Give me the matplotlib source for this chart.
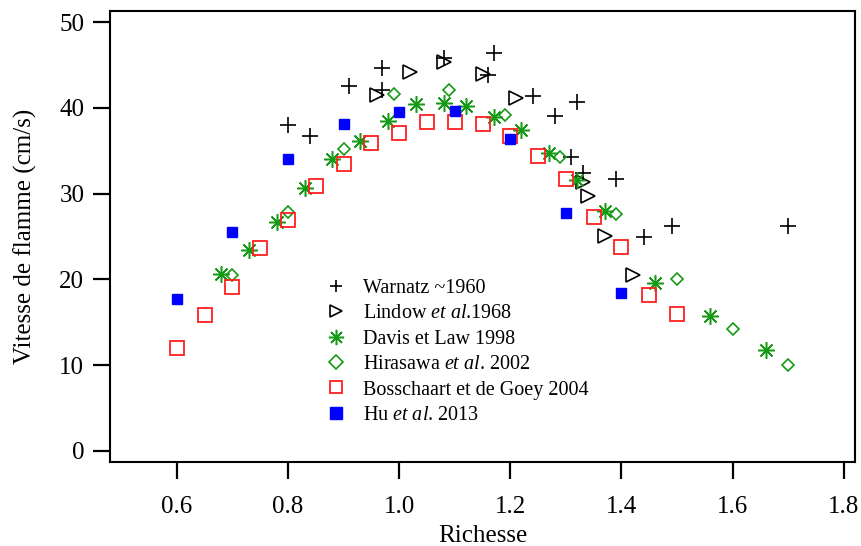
import matplotlib
matplotlib.use("Agg")
import matplotlib.pyplot as plt

plt.rcParams['font.family'] = ['Liberation Serif', 'DejaVu Serif']
plt.rcParams['mathtext.fontset'] = 'custom'
plt.rcParams['mathtext.rm'] = 'Liberation Serif'
plt.rcParams['mathtext.it'] = 'Liberation Serif:italic'

# Warnatz ~1960
warnatz_x = [0.80, 0.84, 0.91, 0.97, 0.97, 1.08, 1.16, 1.17, 1.24, 1.28, 1.32,
             1.31, 1.33, 1.39, 1.44, 1.49, 1.70]
warnatz_y = [38.0, 36.7, 42.5, 44.6, 42.1, 45.8, 43.8, 46.4, 41.4, 39.0, 40.7,
             34.3, 32.4, 31.7, 24.9, 26.2, 26.2]

# Lindow et al. 1968
lindow_x = [0.96, 1.02, 1.08, 1.15, 1.21, 1.33, 1.34, 1.37, 1.42]
lindow_y = [41.5, 44.2, 45.3, 43.9, 41.1, 31.4, 29.7, 25.1, 20.5]

# Davis et Law 1998
davis_x = [0.68, 0.73, 0.78, 0.83, 0.88, 0.93, 0.98, 1.03, 1.08, 1.12, 1.17,
           1.22, 1.27, 1.32, 1.37, 1.46, 1.56, 1.66]
davis_y = [20.6, 23.4, 26.7, 30.6, 34.0, 36.1, 38.5, 40.4, 40.6, 40.2, 38.9,
           37.4, 34.7, 31.6, 28.0, 19.6, 15.7, 11.8]

# Hirasawa et al. 2002
hira_x = [0.70, 0.80, 0.90, 0.99, 1.09, 1.19, 1.29, 1.39, 1.50, 1.60, 1.70]
hira_y = [20.5, 27.8, 35.2, 41.6, 42.1, 39.2, 34.3, 27.6, 20.1, 14.2, 10.0]

# Bosschaart et de Goey 2004
boss_x = [0.60, 0.65, 0.70, 0.75, 0.80, 0.85, 0.90, 0.95, 1.00, 1.05, 1.10,
          1.15, 1.20, 1.25, 1.30, 1.35, 1.40, 1.45, 1.50]
boss_y = [12.0, 15.9, 19.1, 23.7, 26.9, 30.9, 33.4, 35.9, 37.1, 38.3, 38.3,
          38.1, 36.7, 34.4, 31.7, 27.3, 23.8, 18.2, 16.0]

# Hu et al. 2013
hu_x = [0.60, 0.70, 0.80, 0.90, 1.00, 1.10, 1.20, 1.30, 1.40]
hu_y = [17.7, 25.5, 34.0, 38.1, 39.5, 39.6, 36.4, 27.7, 18.4]

green = '#159a15'

fig = plt.figure(figsize=(8.61, 5.46), dpi=100)
ax = fig.add_axes([0.1278, 0.1538, 0.8652, 0.8261])

ax.plot(warnatz_x, warnatz_y, ls='none', marker='+', ms=11, mew=1.2,
        color='black', label='Warnatz ~1960')
ax.plot(lindow_x, lindow_y, ls='none', marker='>', ms=10, mew=1.2,
        mfc='none', mec='black', label=r'Lindow $et\ al$.1968')
ax.plot(davis_x, davis_y, ls='none', marker=(8, 2, 0), ms=12, mew=1.1,
        color=green, label='Davis et Law 1998')
ax.plot(hira_x, hira_y, ls='none', marker='D', ms=6, mew=1.2,
        mfc='none', mec=green, label=r'Hirasawa $et\ al$. 2002')
ax.plot(boss_x, boss_y, ls='none', marker='s', ms=10, mew=1.3,
        mfc='none', mec='#ff2020', label='Bosschaart et de Goey 2004')
ax.plot(hu_x, hu_y, ls='none', marker='s', ms=6.5,
        color='#0000ff', label=r'Hu $et\ al$. 2013')

ax.set_xlim(0.48, 1.82)
ax.set_ylim(-1.3, 51.3)
ax.set_xticks([0.6, 0.8, 1.0, 1.2, 1.4, 1.6, 1.8])
ax.set_yticks([0, 10, 20, 30, 40, 50])
ax.set_xticklabels(['0.6', '0.8', '1.0', '1.2', '1.4', '1.6', '1.8'])

for s in ax.spines.values():
    s.set_linewidth(1.5)
ax.tick_params(direction='out', length=12.5, width=1.6, labelsize=18)
ax.tick_params(axis='x', pad=12)
ax.tick_params(axis='y', pad=6)

ax.set_xlabel('Richesse', fontsize=18, labelpad=5)
ax.set_ylabel('Vitesse de flamme (cm/s)', fontsize=18, labelpad=16)

leg = ax.legend(loc='upper left', bbox_to_anchor=(0.279, 0.4235), frameon=False,
                fontsize=14.5, handlelength=1.0, handletextpad=0.85,
                labelspacing=0.31, borderaxespad=0)
# legend symbols are drawn a little bigger than in the plot
leg_sizes = [9, 8.5, 11, 7.5, 8.5, 8.5]
for h, ms in zip(leg.legend_handles, leg_sizes):
    h.set_markersize(ms)

fig.savefig('out.png', dpi=100)
